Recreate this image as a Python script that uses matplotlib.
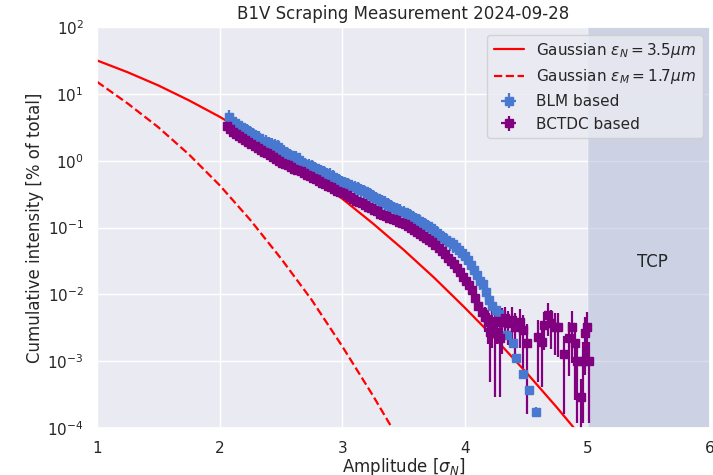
import matplotlib
matplotlib.use("Agg")
import matplotlib.pyplot as plt
import seaborn as sns

# Gaussian reference curves (cumulative intensity beyond amplitude, % of total)
gauss_amp = [1.0, 1.25, 1.5, 1.75, 2.0, 2.25, 2.5, 2.75, 3.0, 3.25, 3.5,
             3.75, 4.0, 4.25, 4.5, 4.75, 5.0]
gauss_n = [31.7, 21.1, 13.4, 8.0, 4.55, 2.44, 1.24, 0.60, 0.27, 0.115, 0.0465,
           0.0177, 0.0063, 0.00214, 0.00068, 0.000203, 0.0000573]
gauss_m_amp = [1.0, 1.25, 1.5, 1.75, 2.0, 2.25, 2.5, 2.75, 3.0, 3.25, 3.5]
gauss_m = [15.2, 7.2, 3.17, 1.24, 0.43, 0.13, 0.0345, 0.0083, 0.00167,
           0.000306, 0.000051]

# BLM based measurement
blm_amp = [2.075, 2.1, 2.125, 2.15, 2.175, 2.2, 2.225, 2.25, 2.275, 2.3,
           2.325, 2.35, 2.375, 2.4, 2.425, 2.45, 2.475, 2.5, 2.525, 2.55,
           2.575, 2.6, 2.625, 2.65, 2.675, 2.7, 2.725, 2.75, 2.775, 2.8,
           2.825, 2.85, 2.875, 2.9, 2.925, 2.95, 2.975, 3.0, 3.025, 3.05,
           3.075, 3.1, 3.125, 3.15, 3.175, 3.2, 3.225, 3.25, 3.275, 3.3,
           3.325, 3.35, 3.375, 3.4, 3.425, 3.45, 3.475, 3.5, 3.525, 3.55,
           3.575, 3.6, 3.625, 3.65, 3.675, 3.7, 3.725, 3.75, 3.775, 3.8,
           3.825, 3.85, 3.875, 3.9, 3.925, 3.95, 3.975, 4.0, 4.025, 4.05,
           4.075, 4.1, 4.125, 4.15, 4.175, 4.2, 4.225, 4.25, 4.275, 4.3,
           4.345, 4.395, 4.42, 4.475, 4.525, 4.58]
blm_val = [4.57, 3.98, 3.63, 3.39, 3.16, 2.95, 2.82, 2.63, 2.45, 2.29,
           2.19, 2.00, 1.91, 1.78, 1.74, 1.70, 1.62, 1.41, 1.35, 1.26,
           1.20, 1.10, 1.12, 1.02, 0.933, 0.891, 0.851, 0.813, 0.776, 0.724,
           0.692, 0.661, 0.617, 0.617, 0.575, 0.525, 0.501, 0.479, 0.457, 0.447,
           0.417, 0.398, 0.380, 0.363, 0.347, 0.324, 0.309, 0.288, 0.275, 0.257,
           0.245, 0.234, 0.219, 0.204, 0.195, 0.186, 0.178, 0.170, 0.158, 0.151,
           0.141, 0.132, 0.126, 0.117, 0.110, 0.105, 0.0977, 0.0891, 0.0832, 0.0759,
           0.0708, 0.0661, 0.0603, 0.0562, 0.0513, 0.0468, 0.0417, 0.0372, 0.0324, 0.0275,
           0.0234, 0.0195, 0.0158, 0.0141, 0.0110, 0.00832, 0.00676, 0.00575, 0.00513, 0.00389,
           0.00245, 0.00186, 0.00112, 0.000646, 0.000372, 0.000174]
blm_err = [1.15, 1.00, 0.91, 0.85, 0.79, 0.74, 0.71, 0.66, 0.61, 0.57,
           0.55, 0.50, 0.48, 0.45, 0.44, 0.41, 0.39, 0.35, 0.34, 0.32,
           0.30, 0.28, 0.26, 0.24, 0.23, 0.22, 0.21, 0.20, 0.19, 0.18,
           0.17, 0.17, 0.15, 0.15, 0.14, 0.13, 0.13, 0.12, 0.11, 0.11,
           0.10, 0.10, 0.095, 0.091, 0.087, 0.081, 0.077, 0.072, 0.069, 0.064,
           0.061, 0.059, 0.055, 0.051, 0.049, 0.047, 0.045, 0.043, 0.040, 0.038,
           0.035, 0.033, 0.032, 0.029, 0.028, 0.026, 0.024, 0.022, 0.021, 0.019,
           0.018, 0.017, 0.015, 0.014, 0.013, 0.012, 0.010, 0.0093, 0.0081, 0.0069,
           0.0059, 0.0049, 0.0040, 0.0035, 0.0028, 0.0021, 0.0017, 0.0014, 0.0013, 0.0010,
           0.0004, 0.0003, 0.00017, 0.0001, 0.00006, 0.00003]

# BCTDC based measurement
bct_amp = [2.06, 2.085, 2.11, 2.135, 2.16, 2.185, 2.21, 2.235, 2.26, 2.285,
           2.31, 2.335, 2.36, 2.385, 2.41, 2.435, 2.46, 2.485, 2.51, 2.535,
           2.56, 2.585, 2.61, 2.635, 2.66, 2.685, 2.71, 2.735, 2.76, 2.785,
           2.81, 2.835, 2.86, 2.885, 2.91, 2.935, 2.96, 2.985, 3.01, 3.035,
           3.06, 3.085, 3.11, 3.135, 3.16, 3.185, 3.21, 3.235, 3.26, 3.285,
           3.31, 3.335, 3.36, 3.385, 3.41, 3.435, 3.46, 3.485, 3.51, 3.535,
           3.56, 3.585, 3.61, 3.635, 3.66, 3.685, 3.71, 3.735, 3.76, 3.785,
           3.81, 3.835, 3.86, 3.885, 3.91, 3.935, 3.96, 3.985, 4.01, 4.035,
           4.06, 4.085, 4.11, 4.14, 4.165, 4.19, 4.205, 4.225, 4.245, 4.265,
           4.285, 4.305, 4.33, 4.35, 4.385, 4.41, 4.45, 4.475, 4.505, 4.6,
           4.63, 4.645, 4.68, 4.705, 4.735, 4.76, 4.81, 4.85, 4.875, 4.9,
           4.915, 4.95, 4.96, 4.98, 4.995, 5.01]
bct_val = [3.31, 2.95, 2.69, 2.51, 2.34, 2.19, 2.04, 1.91, 1.78, 1.66,
           1.55, 1.45, 1.35, 1.29, 1.20, 1.12, 1.07, 1.00, 0.933, 0.891,
           0.851, 0.794, 0.759, 0.724, 0.692, 0.646, 0.617, 0.589, 0.550, 0.525,
           0.490, 0.468, 0.447, 0.417, 0.398, 0.380, 0.355, 0.339, 0.324, 0.302,
           0.282, 0.269, 0.251, 0.240, 0.229, 0.219, 0.204, 0.195, 0.182, 0.174,
           0.162, 0.155, 0.148, 0.141, 0.135, 0.129, 0.123, 0.117, 0.112, 0.105,
           0.0977, 0.0912, 0.0851, 0.0794, 0.0741, 0.0692, 0.0646, 0.0603, 0.0550, 0.0490,
           0.0447, 0.0398, 0.0355, 0.0316, 0.0282, 0.0245, 0.0214, 0.0182, 0.0158, 0.0138,
           0.0115, 0.00891, 0.00676, 0.00537, 0.00457, 0.00380, 0.00269, 0.00355, 0.00269, 0.00398,
           0.00219, 0.00380, 0.00437, 0.00372, 0.00407, 0.00324, 0.00380, 0.00288, 0.00186, 0.00229,
           0.00191, 0.00347, 0.00490, 0.00372, 0.00324, 0.00324, 0.00126, 0.00219, 0.00324, 0.00186,
           0.00102, 0.000288, 0.00102, 0.00263, 0.00324, 0.00102]
bct_err = [0.17, 0.15, 0.13, 0.13, 0.12, 0.11, 0.10, 0.10, 0.09, 0.08,
           0.08, 0.07, 0.07, 0.06, 0.06, 0.06, 0.05, 0.05, 0.05, 0.045,
           0.043, 0.040, 0.038, 0.036, 0.035, 0.032, 0.031, 0.029, 0.028, 0.026,
           0.025, 0.023, 0.022, 0.021, 0.020, 0.019, 0.018, 0.017, 0.016, 0.015,
           0.014, 0.013, 0.013, 0.012, 0.011, 0.011, 0.010, 0.010, 0.009, 0.009,
           0.008, 0.008, 0.007, 0.007, 0.007, 0.006, 0.006, 0.006, 0.006, 0.005,
           0.005, 0.0046, 0.0043, 0.0040, 0.0037, 0.0035, 0.0032, 0.0030, 0.0028, 0.0025,
           0.0022, 0.0020, 0.0018, 0.0016, 0.0014, 0.0013, 0.0011, 0.0010, 0.0009, 0.0008,
           0.0008, 0.0010, 0.0012, 0.0015, 0.0018, 0.0020, 0.0022, 0.0020, 0.0024, 0.0022,
           0.0019, 0.0025, 0.0022, 0.0020, 0.0023, 0.0021, 0.0022, 0.0021, 0.0017, 0.0018,
           0.0015, 0.0020, 0.0025, 0.0022, 0.0020, 0.0021, 0.0011, 0.0016, 0.0023, 0.0016,
           0.0009, 0.00025, 0.0009, 0.0020, 0.0022, 0.0009]
amp_err = 0.025

sns.set_theme(style="darkgrid")

fig = plt.figure(figsize=(7.13, 4.75), dpi=100)
ax = fig.add_axes([0.136, 0.099, 0.86, 0.844])

# TCP region
ax.axvspan(5, 6, color="#b4c0da", alpha=0.55, lw=0)
ax.text(5.53, 0.03, "TCP", ha="center", va="center", fontsize=12)

ax.plot(gauss_amp, gauss_n, color="red", lw=1.6, label=r"Gaussian $\epsilon_N = 3.5\mu m$")
ax.plot(gauss_m_amp, gauss_m, color="red", ls="--", lw=1.6, label=r"Gaussian $\epsilon_M = 1.7\mu m$")

ax.errorbar(blm_amp, blm_val, xerr=amp_err, yerr=blm_err, fmt="s", ms=5.5,
            color="#4878d0", elinewidth=1.6, label="BLM based")
ax.errorbar(bct_amp, bct_val, xerr=amp_err, yerr=bct_err, fmt="s", ms=5.5,
            color="purple", elinewidth=1.6, label="BCTDC based")

ax.set_yscale("log")
ax.set_xlim(1, 6)
ax.set_ylim(1e-4, 1e2)
ax.set_xlabel(r"Amplitude [$\sigma_N$]", labelpad=0)
ax.set_ylabel("Cumulative intensity [% of total]", labelpad=2)
ax.set_title("B1V Scraping Measurement 2024-09-28")
ax.legend(loc="upper right")

fig.savefig("out.png", dpi=100)
